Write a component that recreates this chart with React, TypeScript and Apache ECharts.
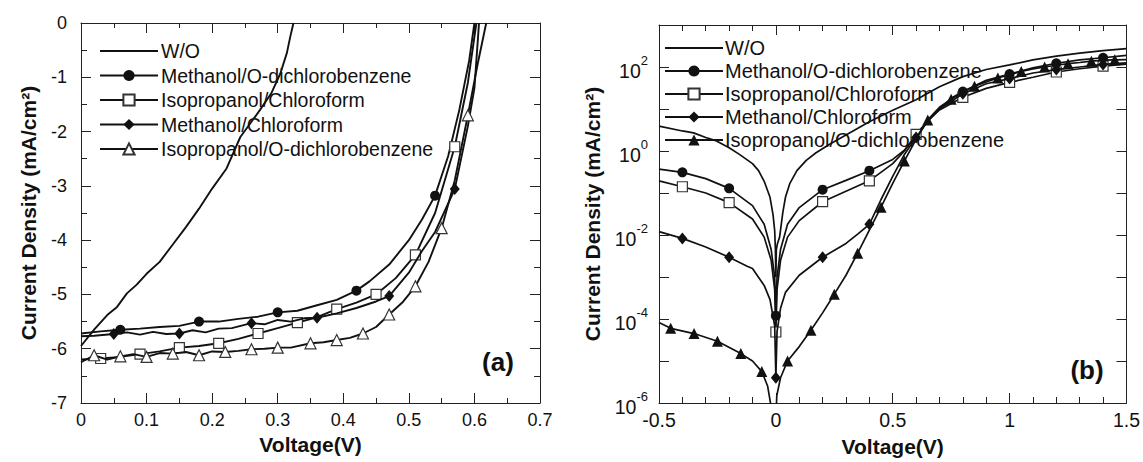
import { useEffect, useRef } from "react";
import * as echarts from "echarts";

const FONT = '"Liberation Sans", Arial, sans-serif';
const INK = "#111";

const seriesNames = [
  "W/O",
  "Methanol/O-dichlorobenzene",
  "Isopropanol/Chloroform",
  "Methanol/Chloroform",
  "Isopropanol/O-dichlorobenzene",
];

// ---------- Panel (a): J-V under illumination (linear) ----------
const aWO = [
  [0, -5.95], [0.02, -5.65], [0.04, -5.38], [0.055, -5.23], [0.07, -4.98], [0.085, -4.82],
  [0.1, -4.62], [0.12, -4.4], [0.14, -4.08], [0.16, -3.76], [0.18, -3.42], [0.2, -3.05],
  [0.222, -2.68], [0.243, -2.1], [0.26, -1.82], [0.273, -1.6], [0.29, -1.3], [0.304, -0.93],
  [0.314, -0.55], [0.319, -0.26], [0.324, 0],
];
const aMeODCB = [
  [0, -5.72], [0.03, -5.68], [0.09, -5.63], [0.12, -5.6], [0.15, -5.58], [0.21, -5.5],
  [0.24, -5.45], [0.27, -5.41], [0.33, -5.3], [0.36, -5.2], [0.39, -5.1], [0.44, -4.76],
  [0.47, -4.45], [0.5, -4.0], [0.52, -3.62], [0.56, -2.45], [0.577, -1.6], [0.592, -0.69], [0.6, 0],
];
const aMeODCBMarks = [[0.06, -5.65], [0.18, -5.5], [0.3, -5.33], [0.42, -4.93], [0.54, -3.18]];
const aIpaCF = [
  [0, -6.2], [0.06, -6.15], [0.12, -6.05], [0.18, -5.95], [0.24, -5.82], [0.3, -5.62],
  [0.36, -5.42], [0.42, -5.15], [0.48, -4.7], [0.54, -3.5], [0.59, -1.1], [0.603, 0],
];
const aIpaCFMarks = [
  [0.03, -6.18], [0.09, -6.1], [0.15, -5.98], [0.21, -5.9], [0.27, -5.72], [0.33, -5.52],
  [0.39, -5.27], [0.45, -5.0], [0.51, -4.27], [0.57, -2.28],
];
const aMeCF = [
  [0, -5.77], [0.02, -5.76], [0.07, -5.7], [0.09, -5.74], [0.11, -5.69], [0.13, -5.73],
  [0.17, -5.66], [0.19, -5.7], [0.21, -5.63], [0.23, -5.62], [0.28, -5.55], [0.3, -5.47],
  [0.32, -5.5], [0.34, -5.44], [0.39, -5.35], [0.42, -5.25], [0.45, -5.13], [0.5, -4.6],
  [0.52, -4.2], [0.54, -3.85], [0.59, -1.9], [0.6, -1.2], [0.607, 0],
];
const aMeCFMarks = [[0.05, -5.73], [0.15, -5.72], [0.26, -5.53], [0.36, -5.43], [0.47, -5.03], [0.57, -3.06]];
const aIpaODCB = [
  [0, -6.25], [0.04, -6.2], [0.08, -6.1], [0.12, -6.08], [0.16, -6.06], [0.2, -6.05],
  [0.24, -6.04], [0.28, -6.0], [0.32, -5.98], [0.37, -5.88], [0.41, -5.8], [0.45, -5.6],
  [0.49, -5.15], [0.53, -4.4], [0.57, -2.9], [0.605, -0.75], [0.618, 0],
];
const aIpaODCBMarks = [
  [0.02, -6.12], [0.06, -6.14], [0.1, -6.15], [0.14, -6.09], [0.18, -6.12], [0.22, -6.06],
  [0.26, -6.01], [0.3, -5.98], [0.35, -5.9], [0.39, -5.84], [0.43, -5.72], [0.47, -5.37],
  [0.51, -4.85], [0.55, -3.78], [0.59, -1.7],
];

// ---------- Panel (b): dark J-V (log) ----------
const bWO = [
  [-0.5, 3.9], [-0.4, 3.0], [-0.352, 2.7], [-0.3, 2.1], [-0.254, 1.74], [-0.2, 1.2],
  [-0.156, 0.83], [-0.1, 0.5], [-0.074, 0.34], [-0.05, 0.19], [-0.025, 0.079], [-0.012, 0.03],
  [-0.005, 0.0126], [-0.002, 0.0045], [0, 0.001], [0.002, 0.0045], [0.007, 0.0063], [0.016, 0.0089],
  [0.03, 0.035], [0.041, 0.079], [0.06, 0.17], [0.09, 0.34], [0.13, 0.6], [0.172, 0.91],
  [0.23, 1.45], [0.3, 2.4], [0.4, 5.0], [0.5, 9.3], [0.6, 16.6], [0.7, 34], [0.8, 59], [0.9, 87],
  [1.0, 112], [1.1, 148], [1.2, 182], [1.3, 214], [1.4, 245], [1.5, 275],
];
const bMeODCB = [
  [-0.5, 0.37], [-0.3, 0.22], [-0.1, 0.05], [-0.05, 0.018], [-0.02, 0.0045], [-0.005, 0.001],
  [0.005, 0.001], [0.02, 0.0045], [0.05, 0.018], [0.1, 0.045], [0.3, 0.2], [0.5, 0.63],
  [0.55, 1.05], [0.65, 5.2], [0.7, 10], [0.75, 18], [0.9, 48], [1.1, 95], [1.3, 148], [1.5, 190],
];
const bMeODCBMarks = [
  [-0.4, 0.31], [-0.2, 0.129], [0, 1.2e-4], [0.2, 0.12], [0.4, 0.34], [0.6, 2.2],
  [0.8, 26], [1.0, 68], [1.2, 123], [1.4, 166],
];
const bIpaCF = [
  [-0.5, 0.195], [-0.3, 0.1], [-0.1, 0.024], [-0.05, 0.0089], [-0.02, 0.0025], [-0.005, 5e-4],
  [0.005, 5e-4], [0.02, 0.0025], [0.05, 0.0089], [0.1, 0.022], [0.3, 0.11], [0.5, 0.5],
  [0.55, 1.0], [0.65, 5.2], [0.7, 9.5], [0.9, 31], [1.1, 57], [1.3, 91], [1.5, 117],
];
const bIpaCFMarks = [
  [-0.4, 0.141], [-0.2, 0.059], [0, 4.9e-5], [0.2, 0.062], [0.4, 0.195], [0.6, 2.5],
  [0.8, 19], [1.0, 43], [1.2, 76], [1.4, 105],
];
const bMeCF = [
  [-0.5, 0.012], [-0.3, 0.0052], [-0.123, 0.0018], [-0.1, 0.0016], [-0.05, 6.3e-4], [-0.025, 2.9e-4],
  [-0.005, 6.9e-5], [0.005, 5e-5], [0.02, 1.8e-4], [0.041, 4.3e-4], [0.1, 0.0011], [0.3, 0.0063],
  [0.35, 0.0105], [0.45, 0.07], [0.5, 0.25], [0.55, 0.83], [0.65, 5.2], [0.7, 10], [0.9, 40],
  [1.1, 72], [1.3, 100], [1.5, 126],
];
const bMeCFMarks = [
  [-0.4, 0.0083], [-0.2, 0.00295], [0, 4e-6], [0.2, 0.00295], [0.4, 0.018], [0.6, 2.1],
  [0.8, 23], [1.0, 53], [1.2, 87], [1.4, 115],
];
const bIpaODCB = [
  [-0.5, 8.3e-5], [-0.1, 1e-5], [-0.035, 2.5e-6], [-0.02, 8e-7], [-0.012, 1e-7], [-0.004, 1e-7],
  [0.004, 1.5e-6], [0.02, 4e-6], [0.1, 2.2e-5], [0.2, 1.4e-4], [0.3, 0.0011], [0.4, 0.013],
  [0.5, 0.17], [0.6, 1.9], [0.7, 11], [0.8, 25], [0.9, 44], [1.0, 66], [1.1, 90], [1.2, 110],
  [1.3, 128], [1.4, 145], [1.5, 150],
];
const bIpaODCBMarks = [
  [-0.45, 6e-5], [-0.35, 4.5e-5], [-0.25, 2.95e-5], [-0.15, 1.5e-5], [-0.06, 5.6e-6],
  [0.05, 1e-5], [0.15, 5.4e-5], [0.25, 3.9e-4], [0.35, 0.0037], [0.45, 0.046], [0.55, 0.58],
  [0.65, 5.5], [0.75, 17], [0.85, 35], [0.95, 55], [1.05, 78], [1.15, 100], [1.25, 120],
  [1.35, 138], [1.45, 148],
];

function merge(curve: number[][], marks: number[][]) {
  const items: any[] = curve
    .filter((p) => !marks.some((m) => Math.abs(m[0] - p[0]) < 1e-9))
    .map((p) => ({ value: p, symbol: "none" }));
  marks.forEach((m) => items.push({ value: m }));
  items.sort((a, b) => a.value[0] - b.value[0]);
  return items;
}

const hollow = { color: "#fff", borderColor: "#333", borderWidth: 1.2 };
const solid = { color: INK, borderColor: INK, borderWidth: 0 };
const invisible = { color: "rgba(0,0,0,0)", borderColor: "rgba(0,0,0,0)", borderWidth: 0 };

function styleFor(i: number, panelB: boolean) {
  switch (i) {
    case 0: return { symbol: "none", itemStyle: invisible };
    case 1: return { symbol: "circle", symbolSize: 10, itemStyle: solid };
    case 2: return { symbol: "rect", symbolSize: 10, itemStyle: hollow };
    case 3: return { symbol: "diamond", symbolSize: [10, 12], itemStyle: solid };
    default: return { symbol: "triangle", symbolSize: 11, itemStyle: panelB ? solid : hollow };
  }
}

const axisLine = { show: true, onZero: false, lineStyle: { color: "#222", width: 1 } };
const labelA = { color: INK, fontSize: 18, fontFamily: FONT };
const labelB = { color: INK, fontSize: 19.5, fontFamily: FONT };
const nameStyle = { color: INK, fontSize: 21, fontWeight: "bold" as const, fontFamily: FONT };
const tick = (len: number) => ({ inside: true, length: len, lineStyle: { color: "#222" } });

export default function App() {
  const ref = useRef<HTMLDivElement>(null);
  useEffect(() => {
    document.body.style.margin = "0";
    const chart = echarts.init(ref.current!, null, { renderer: "svg" });

    const aCurves = [aWO, aMeODCB, aIpaCF, aMeCF, aIpaODCB];
    const aMarks = [[], aMeODCBMarks, aIpaCFMarks, aMeCFMarks, aIpaODCBMarks];
    const bCurves = [bWO, bMeODCB, bIpaCF, bMeCF, bIpaODCB];
    const bMarks = [[], bMeODCBMarks, bIpaCFMarks, bMeCFMarks, bIpaODCBMarks];

    const series: any[] = [];
    seriesNames.forEach((name, i) => {
      series.push({
        type: "line", name, xAxisIndex: 0, yAxisIndex: 0,
        data: merge(aCurves[i], aMarks[i] as number[][]),
        lineStyle: { color: INK, width: 1.9 }, ...styleFor(i, false),
        showSymbol: true, clip: true, z: 3 + i,
      });
    });
    seriesNames.forEach((name, i) => {
      series.push({
        type: "line", name, xAxisIndex: 2, yAxisIndex: 2,
        data: merge(bCurves[i], bMarks[i] as number[][]),
        lineStyle: { color: INK, width: 1.7 }, ...styleFor(i, true),
        showSymbol: true, clip: true, z: 3 + i,
      });
    });

    const legendData = (panelB: boolean) =>
      seriesNames.map((n, i) => {
        if (i === 0) return { name: n, itemStyle: invisible };
        if (i === 4 && panelB) return { name: n, itemStyle: { color: INK, borderColor: INK, borderWidth: 0 } };
        return n;
      });

    chart.setOption({
      animation: false,
      backgroundColor: "#fff",
      grid: [
        { left: 81, top: 23, width: 459, height: 380 },
        { left: 659, top: 25, width: 470, height: 384 },
      ],
      legend: [
        {
          orient: "vertical", itemWidth: 58, itemHeight: 14, itemGap: 4.5, left: 94, top: 36,
          textStyle: { color: INK, fontSize: 19.5, fontFamily: FONT, padding: [0, 0, 0, -2] },
          selectedMode: false, data: legendData(false),
        },
        {
          orient: "vertical", itemWidth: 58, itemHeight: 14, itemGap: 3, left: 659, top: 33,
          textStyle: { color: INK, fontSize: 20, fontFamily: FONT, padding: [0, 0, 0, -3] },
          selectedMode: false, data: legendData(true),
        },
      ],
      xAxis: [
        {
          gridIndex: 0, type: "value", min: 0, max: 0.7, interval: 0.1, position: "bottom",
          axisLine, splitLine: { show: false }, axisTick: tick(10),
          minorTick: { show: true, splitNumber: 2, length: 5, lineStyle: { color: "#222" } },
          axisLabel: { ...labelA, margin: 8 },
          name: "Voltage(V)", nameLocation: "middle", nameGap: 30, nameTextStyle: nameStyle,
        },
        {
          gridIndex: 0, type: "value", min: 0, max: 0.7, interval: 0.1, position: "top",
          axisLine, splitLine: { show: false }, axisTick: tick(10),
          minorTick: { show: true, splitNumber: 2, length: 5, lineStyle: { color: "#222" } },
          axisLabel: { show: false },
        },
        {
          gridIndex: 1, type: "value", min: -0.5, max: 1.5, interval: 0.5, position: "bottom",
          axisLine, splitLine: { show: false }, axisTick: tick(10),
          minorTick: { show: true, splitNumber: 5, length: 6, lineStyle: { color: "#222" } },
          axisLabel: { ...labelB, margin: 7 },
          name: "Voltage(V)", nameLocation: "middle", nameGap: 33, nameTextStyle: nameStyle,
        },
        {
          gridIndex: 1, type: "value", min: -0.5, max: 1.5, interval: 0.5, position: "top",
          axisLine, splitLine: { show: false }, axisTick: tick(10),
          minorTick: { show: true, splitNumber: 5, length: 6, lineStyle: { color: "#222" } },
          axisLabel: { show: false },
        },
      ],
      yAxis: [
        {
          gridIndex: 0, type: "value", min: -7, max: 0, interval: 1, position: "left",
          axisLine, splitLine: { show: false }, axisTick: tick(10),
          minorTick: { show: true, splitNumber: 2, length: 6, lineStyle: { color: "#222" } },
          axisLabel: { ...labelA, margin: 14 },
          name: "Current Density (mA/cm²)", nameLocation: "middle", nameGap: 42,
          nameTextStyle: nameStyle,
        },
        {
          gridIndex: 0, type: "value", min: -7, max: 0, interval: 1, position: "right",
          axisLine, splitLine: { show: false }, axisTick: tick(10),
          minorTick: { show: true, splitNumber: 2, length: 6, lineStyle: { color: "#222" } },
          axisLabel: { show: false },
        },
        {
          gridIndex: 1, type: "log", logBase: 10, min: 1e-6, max: 1e3, splitNumber: 9, position: "left",
          axisLine, splitLine: { show: false }, axisTick: tick(10),
          axisLabel: {
            margin: 11,
            formatter: (v: number) => {
              const e = Math.round(Math.log10(v));
              if (e % 2 !== 0) return "";
              return `{b|10}{s|${e}}`;
            },
            rich: {
              b: { fontSize: 19.5, fontFamily: FONT, color: INK, lineHeight: 27, verticalAlign: "bottom" },
              s: { fontSize: 13, fontFamily: FONT, color: INK, lineHeight: 27, verticalAlign: "top" },
            },
          },
          name: "Current Density (mA/cm²)", nameLocation: "middle", nameGap: 56,
          nameTextStyle: nameStyle,
        },
        {
          gridIndex: 1, type: "log", logBase: 10, min: 1e-6, max: 1e3, splitNumber: 9, position: "right",
          axisLine, splitLine: { show: false }, axisTick: tick(10),
          axisLabel: { show: false },
        },
      ],
      graphic: [
        {
          type: "text", x: 498, y: 362,
          style: { text: "(a)", font: `bold 26px ${FONT}`, fill: INK, align: "center", verticalAlign: "middle" },
        },
        {
          type: "text", x: 1087, y: 370,
          style: { text: "(b)", font: `bold 26px ${FONT}`, fill: INK, align: "center", verticalAlign: "middle" },
        },
      ],
      series,
    });
    return () => chart.dispose();
  }, []);
  return <div ref={ref} style={{ width: 1143, height: 462 }} />;
}
